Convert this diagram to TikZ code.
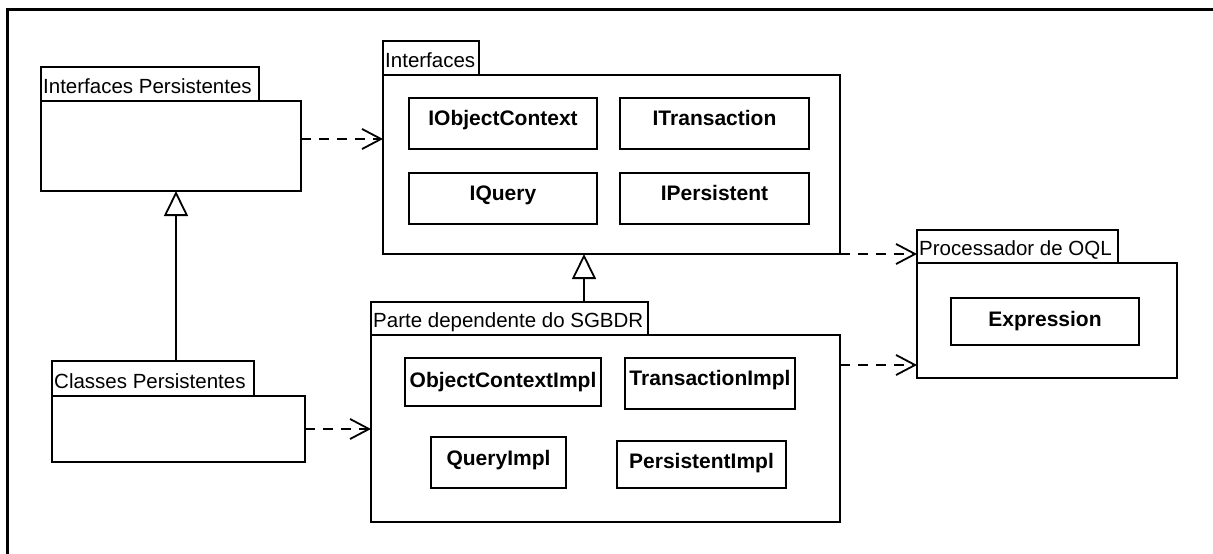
\documentclass[tikz,border=0pt]{standalone}
\usepackage{fontspec}
\setmainfont{Liberation Sans}
\usetikzlibrary{arrows.meta}

\begin{document}
\begin{tikzpicture}[x=1pt,y=-1pt,
  box/.style={draw, line width=1.9pt, rectangle, inner sep=0pt, outer sep=0pt, anchor=north west},
  tablbl/.style={anchor=base west, inner sep=0pt, font=\fontsize{20.5}{22}\selectfont},
  clslbl/.style={anchor=base, inner sep=0pt, font=\fontsize{21}{23}\selectfont\bfseries},
  dep/.style={line width=1.8pt, dash pattern=on 10pt off 8pt, -{Straight Barb[length=19pt,width=20pt,line width=1.8pt]}},
  gen/.style={line width=1.8pt, -{Triangle[open,length=25pt,width=24pt,line width=1.8pt]}}]

\useasboundingbox (0,0) rectangle (1213,554);
\fill[white] (0,0) rectangle (1213,554);

% outer frame (top and left edges only)
\draw[line width=3pt] (7.5,554) -- (7.5,9.5) -- (1213,9.5);

% package: Interfaces Persistentes
\node[box, minimum width=218pt, minimum height=34pt] (iptab) at (41,67) {};
\node[box, minimum width=260pt, minimum height=90pt] (ipbody) at (41,101) {};
\node[tablbl] (iplbl) at (43,93) {Interfaces Persistentes};

% package: Classes Persistentes
\node[box, minimum width=202pt, minimum height=35pt] (cptab) at (52,361) {};
\node[box, minimum width=253pt, minimum height=66pt] (cpbody) at (52,396) {};
\node[tablbl] (cplbl) at (54,388) {Classes Persistentes};

% package: Interfaces
\node[box, minimum width=96pt, minimum height=34pt] (iftab) at (383,41) {};
\node[box, minimum width=457pt, minimum height=179pt] (ifbody) at (383,75) {};
\node[tablbl] (iflbl) at (385,67) {Interfaces};
\node[box, minimum width=188pt, minimum height=51pt] (ioc) at (409,98) {};
\node[clslbl] (ioclbl) at (ioc.center |- 0,125) {IObjectContext};
\node[box, minimum width=189pt, minimum height=51pt] (itr) at (620,98) {};
\node[clslbl] (itrlbl) at (itr.center |- 0,125) {ITransaction};
\node[box, minimum width=188pt, minimum height=51pt] (iqu) at (409,173) {};
\node[clslbl] (iqulbl) at (iqu.center |- 0,200) {IQuery};
\node[box, minimum width=189pt, minimum height=51pt] (ipe) at (620,173) {};
\node[clslbl] (ipelbl) at (ipe.center |- 0,200) {IPersistent};

% package: Parte dependente do SGBDR
\node[box, minimum width=277pt, minimum height=33pt] (pttab) at (371,302) {};
\node[box, minimum width=469pt, minimum height=187pt] (ptbody) at (371,335) {};
\node[tablbl] (ptlbl) at (373,327) {Parte dependente do SGBDR};
\node[box, minimum width=196pt, minimum height=48pt] (oci) at (405,358) {};
\node[clslbl] (ocilbl) at (oci.center |- 0,387) {ObjectContextImpl};
\node[box, minimum width=170pt, minimum height=51pt] (tri) at (625,358) {};
\node[clslbl] (trilbl) at (tri.center |- 0,385) {TransactionImpl};
\node[box, minimum width=135pt, minimum height=51pt] (qui) at (431,437) {};
\node[clslbl] (quilbl) at (qui.center |- 0,465) {QueryImpl};
\node[box, minimum width=169pt, minimum height=47pt] (pei) at (617,441) {};
\node[clslbl] (peilbl) at (pei.center |- 0,468) {PersistentImpl};

% package: Processador de OQL
\node[box, minimum width=201pt, minimum height=33pt] (pctab) at (917,230) {};
\node[box, minimum width=260pt, minimum height=115pt] (pcbody) at (917,263) {};
\node[tablbl] (pclbl) at (919,255) {Processador de OQL};
\node[box, minimum width=188pt, minimum height=47pt] (exp) at (951,298) {};
\node[clslbl] (explbl) at (exp.center |- 0,326) {Expression};

% reference points for the connectors
\coordinate (y1) at (0,139);
\coordinate (x1) at (176,0);
\coordinate (x2) at (584,0);
\coordinate (y2) at (0,365);

% dependencies
\draw[dep] (ipbody.east |- y1) -- (ifbody.west |- y1);
\draw[dep] (cpbody.east) -- (ptbody.west |- cpbody.east);
\draw[dep] (ifbody.south east) -- (pctab.west |- ifbody.south east);
\draw[dep] (ptbody.east |- y2) -- (pcbody.west |- y2);

% generalizations
\draw[gen] (cptab.north -| x1) -- (ipbody.south -| x1);
\draw[gen] (pttab.north -| x2) -- (ifbody.south -| x2);
\end{tikzpicture}
\end{document}
